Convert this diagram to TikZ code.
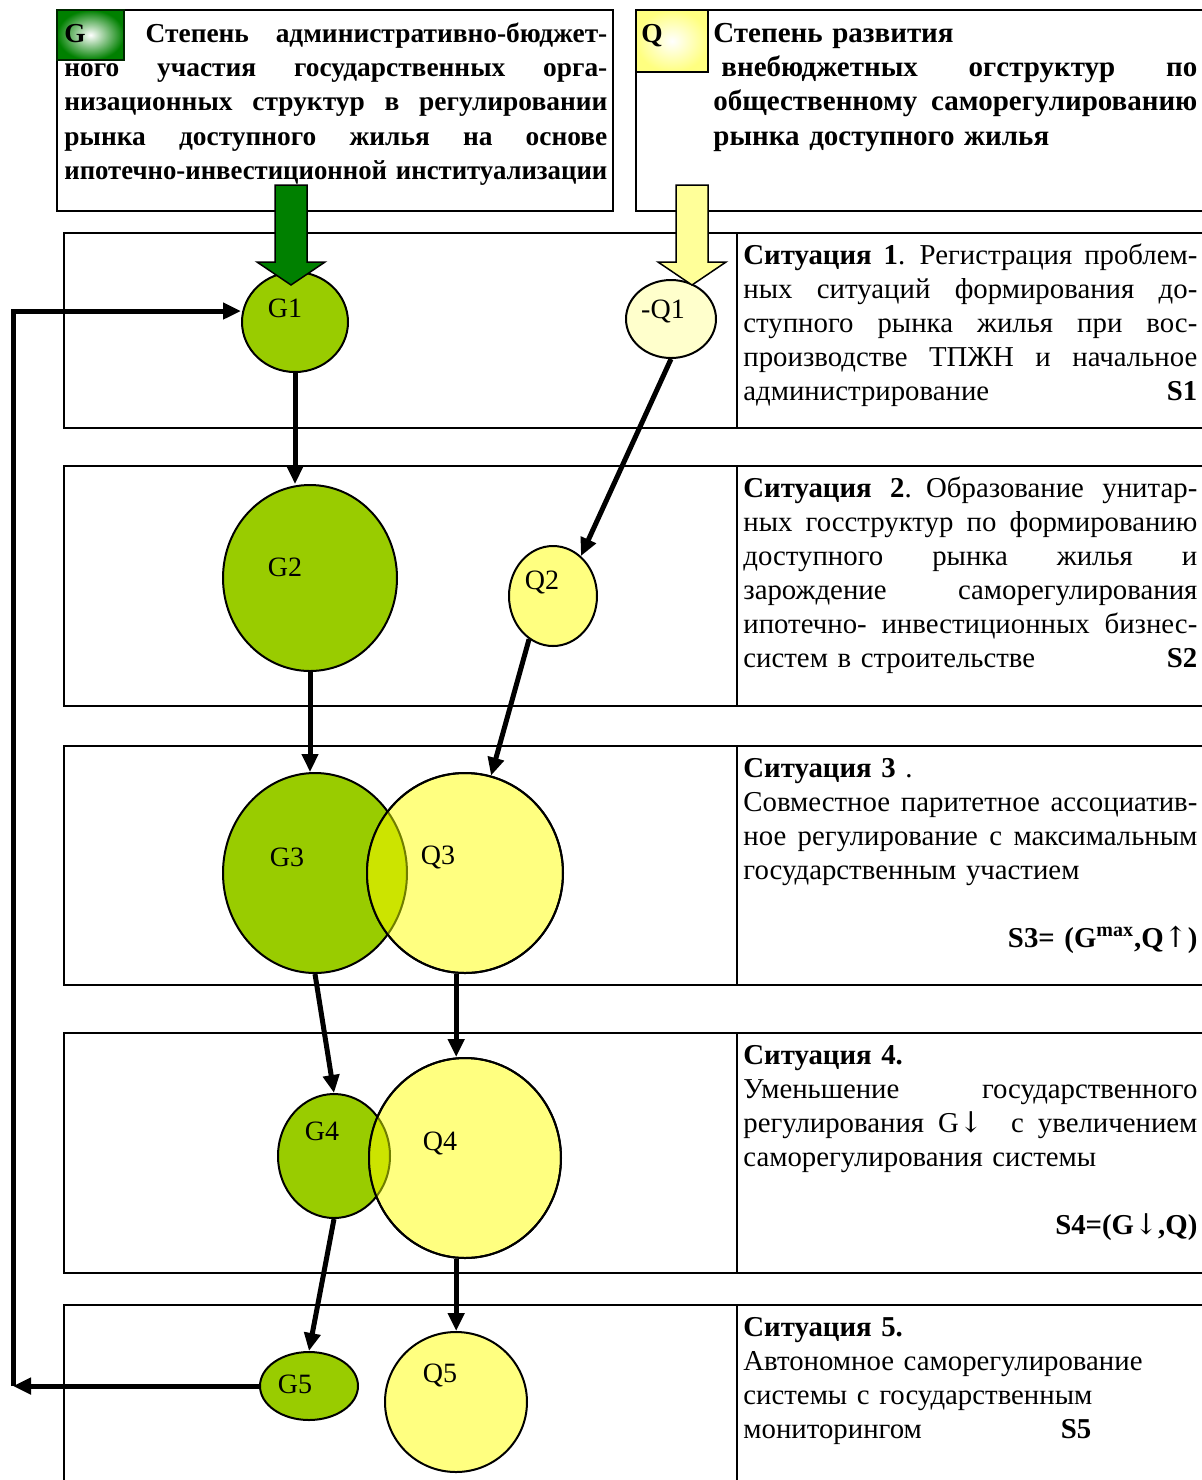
\documentclass[tikz,border=0pt]{standalone}
\usepackage{fontspec}
\usepackage{graphicx}
\setmainfont{Liberation Serif}
\newfontfamily\symfont{DejaVu Serif}
\usetikzlibrary{shapes.geometric,arrows.meta,calc}

\definecolor{gfill}{RGB}{153,204,0}
\definecolor{qfill}{RGB}{255,255,128}
\definecolor{qpale}{RGB}{255,255,204}
\definecolor{mixfill}{RGB}{204,228,0}
\definecolor{gdark}{RGB}{0,128,0}
\definecolor{qarrow}{RGB}{255,255,153}

% one justified line of a text block: the word spaces share the free room
\newcommand\jl[1]{\hbox to\linewidth{\spaceskip=\fontdimen2\font plus 1fil\relax #1}\par}
\newcommand\arrup{{\symfont\mdseries ↑}}
\newcommand\arrdn{{\symfont\mdseries ↓}}

\begin{document}
\begin{tikzpicture}[x=0.5pt,y=-0.5pt,
  frame/.style={line width=0.75pt},
  hframe/.style={line width=1pt},
  gnode/.style={ellipse,draw,line width=1pt,fill=gfill,inner sep=0pt},
  qnode/.style={ellipse,draw,line width=1pt,fill=qfill,inner sep=0pt},
  lbl/.style={font=\fontsize{14}{16}\selectfont,inner sep=0pt},
  conn/.style={line width=2.5pt,line join=miter,-{Triangle[length=9pt,width=8pt]}},
  body/.style={anchor=base west,inner sep=0pt,text width=227pt,font=\fontsize{14.4}{17}\selectfont},
  head/.style={anchor=base west,inner sep=0pt,font=\fontsize{13.7}{17.2}\selectfont\bfseries},
  blockarrow/.style={draw,line width=0.75pt}
]
\useasboundingbox (0,0) rectangle (1202,1480);

% situation rows: circle field on the left, description on the right
\draw[frame] (1202,233) -- (64,233) -- (64,428) -- (1202,428);
\draw[frame] (737,233) -- (737,428);
\draw[frame] (1202,466) -- (64,466) -- (64,706) -- (1202,706);
\draw[frame] (737,466) -- (737,706);
\draw[frame] (1202,746) -- (64,746) -- (64,985) -- (1202,985);
\draw[frame] (737,746) -- (737,985);
\draw[frame] (1202,1033) -- (64,1033) -- (64,1273) -- (1202,1273);
\draw[frame] (737,1033) -- (737,1273);
\draw[frame] (1202,1305) -- (64,1305) -- (64,1480);
\draw[frame] (737,1305) -- (737,1480);

% header boxes
\draw[hframe] (57,10) rectangle (613,211);
\shade[inner color=white,outer color=gdark] (57,10) rectangle (124,60);
\draw[hframe,draw=black!70!gdark] (57,10) rectangle (124,60);
\draw[hframe] (1202,10) -- (636,10) -- (636,211) -- (1202,211);
\shade[inner color=white,outer color=qfill] (636,10) rectangle (708,72);
\draw[hframe] (636,10) rectangle (708,72);

\node[head,text width=271.5pt] (hG) at (64,42) {%
\hbox to\linewidth{G\hspace{30pt}Степень\hfill административно-бюджет-}\par
\jl{ного участия государственных орга-}
\jl{низационных структур в регулировании}
\jl{рынка доступного жилья на основе}
\hbox to\linewidth{\resizebox{\linewidth}{\height}{ипотечно-инвестиционной институализации}}\par};

\node[head] (hQl) at (641,42) {Q};
\node[head,text width=242pt,font=\fontsize{14.5}{17.2}\selectfont\bfseries] (hQ) at (713,42) {%
Степень развития\par
\hbox to\linewidth{\hspace{4pt}внебюджетных\hfill огструктур\hfill по}\par
\jl{общественному саморегулированию}
рынка доступного жилья\par};

% situation descriptions
\node[body] (s1) at (743,264) {%
\jl{\textbf{Ситуация 1}. Регистрация проблем-}
\jl{ных ситуаций формирования до-}
\jl{ступного рынка жилья при вос-}
\jl{производстве ТПЖН и начальное}
\hbox to\linewidth{администрирование\hfill\textbf{S1}}\par};

\node[body] (s2) at (743,497) {%
\jl{\textbf{Ситуация 2}. Образование унитар-}
\jl{ных госструктур по формированию}
\jl{доступного рынка жилья и}
\jl{зарождение саморегулирования}
\jl{ипотечно- инвестиционных бизнес-}
\hbox to\linewidth{систем в строительстве\hfill\textbf{S2}}\par};

\node[body] (s3) at (743,777) {%
\textbf{Ситуация 3} .\par
\jl{Совместное паритетное ассоциатив-}
\jl{ное регулирование с максимальным}
государственным участием\par
\mbox{}\par
\hbox to\linewidth{\hfill\textbf{S3= (G\textsuperscript{max},Q\arrup)}}\par};

\node[body] (s4) at (743,1064) {%
\textbf{Ситуация 4.}\par
\jl{Уменьшение государственного}
\jl{регулирования G\arrdn\ \ с увеличением}
саморегулирования системы\par
\mbox{}\par
\hbox to\linewidth{\hfill\textbf{S4=(G\arrdn,Q)}}\par};

\node[body] (s5) at (743,1336) {%
\textbf{Ситуация 5.}\par
Автономное саморегулирование\par
системы с государственным\par
\hbox to 174pt{мониторингом\hfill\textbf{S5}}\par};

% circles of the two kinds of regulation
\node[gnode,minimum width=53pt,minimum height=50pt] (G1) at (295,322) {};
\node[qnode,fill=qpale,minimum width=45pt,minimum height=39pt] (Q1) at (671,319) {};
\node[gnode,minimum width=87pt,minimum height=93pt] (G2) at (310,578) {};
\node[qnode,minimum width=44pt,minimum height=50pt] (Q2) at (553,596) {};
\node[gnode,minimum width=92pt,minimum height=100pt] (G3) at (315,873) {};
\node[qnode,minimum width=98pt,minimum height=100pt] (Q3) at (465,873) {};
\begin{scope}
  \clip (Q3.center) ellipse [x radius=49pt,y radius=50pt];
  \fill[mixfill] (G3.center) ellipse [x radius=46pt,y radius=50pt];
  \draw[line width=1pt,black!45!mixfill] (G3.center) ellipse [x radius=46pt,y radius=50pt];
\end{scope}
\draw[line width=1pt] (Q3.center) ellipse [x radius=49pt,y radius=50pt];
\node[gnode,minimum width=56pt,minimum height=62pt] (G4) at (334,1156) {};
\node[qnode,minimum width=96pt,minimum height=100pt] (Q4) at (465,1158) {};
\begin{scope}
  \clip (Q4.center) ellipse [x radius=48pt,y radius=50pt];
  \fill[mixfill] (G4.center) ellipse [x radius=28pt,y radius=31pt];
  \draw[line width=1pt,black!45!mixfill] (G4.center) ellipse [x radius=28pt,y radius=31pt];
\end{scope}
\draw[line width=1pt] (Q4.center) ellipse [x radius=48pt,y radius=50pt];
\node[gnode,minimum width=49pt,minimum height=34pt] (G5) at (309,1386) {};
\node[qnode,minimum width=71pt,minimum height=70pt] (Q5) at (456,1402) {};

\node[lbl] (tG1) at (285,308) {G1};
\node[lbl] (tQ1) at (663,311) {-Q1};
\node[lbl] (tG2) at (285,567) {G2};
\node[lbl] (tQ2) at (542,582) {Q2};
\node[lbl] (tG3) at (287,857) {G3};
\node[lbl] (tQ3) at (438,857) {Q3};
\node[lbl] (tG4) at (322,1131) {G4};
\node[lbl] (tQ4) at (440,1143) {Q4};
\node[lbl] (tG5) at (295,1384) {G5};
\node[lbl] (tQ5) at (440,1375) {Q5};

% block arrows from the header boxes
\filldraw[blockarrow,fill=gdark] (275,185) -- (307,185) -- (307,262) -- (325,262)
  -- (291,285) -- (257,262) -- (275,262) -- cycle;
\filldraw[blockarrow,fill=qarrow] (676,185) -- (708,185) -- (708,262) -- (726,262)
  -- (692,285) -- (658,262) -- (676,262) -- cycle;

% transitions between situations
\draw[conn] (G1.south) -- (G1.south |- G2.north);
\draw[conn] (Q1.south) -- (Q2.55);
\draw[conn] (G2.south) -- (G2.south |- G3.north);
\draw[conn] (Q2.241) -- (Q3.75);
\draw[conn] (G3.south) -- (G4.north);
\draw[conn] (Q3.265) -- (Q3.265 |- Q4.north);
\draw[conn] (G4.south) -- (G5.north);
\draw[conn] (Q4.265) -- (Q4.265 |- Q5.north);

% feedback loop back to the first situation
\coordinate (fbB) at (13,1386);
\coordinate (fbT) at (13,311);
\draw[conn] (G5.west) -- (fbB);
\draw[conn] (fbB) -- (fbT) -- (fbT -| G1.west);
\end{tikzpicture}
\end{document}
